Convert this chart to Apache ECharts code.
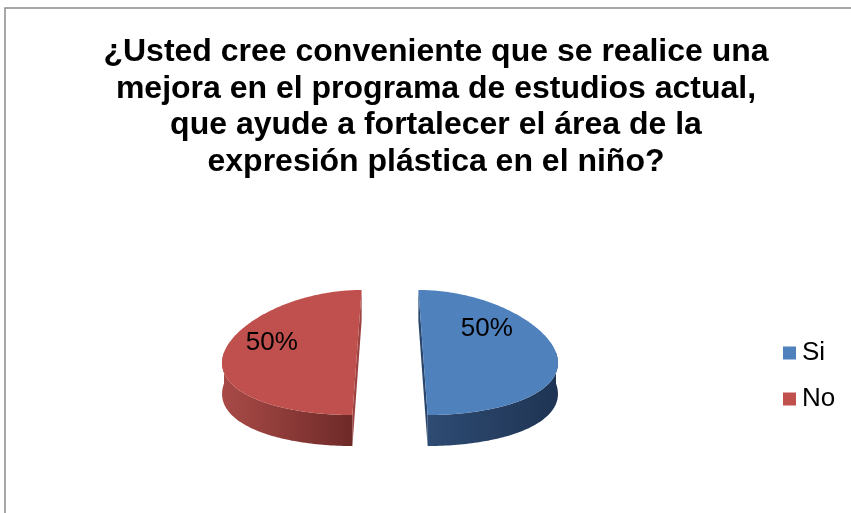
<!DOCTYPE html>
<html>
<head>
<meta charset="utf-8">
<script src="https://cdn.jsdelivr.net/npm/echarts@6/dist/echarts.min.js"></script>
<style>
  html, body { margin: 0; padding: 0; background: #fff; }
  #chart { width: 851px; height: 513px; }
</style>
</head>
<body>
<div id="chart"></div>
<script>
// datos de la encuesta
const categories = ['Si', 'No'];
const values = [50, 50];
const titleText = '¿Usted cree conveniente que se realice una\nmejora en el programa de estudios actual,\nque ayude a fortalecer el área de la\nexpresión plástica en el niño?';

// colores estilo Excel
const topColors = ['#4F81BD', '#C0504D'];
const wallColors = [['#2E4B73', '#1F3453'], ['#A94A47', '#6E2A28']];
const cutColors = ['#2A466C', '#9C4240'];

// geometria del pastel 3D
const CX = 390, CY = 352.5, RX = 133, RY = 62.5, DEPTH = 31, EXPLODE = 33, K = 0.14;
// posicion de etiquetas dentro de cada rebanada (unidades de elipse)
const labelPos = [[0.48, -0.38], [-0.64, -0.15]];

const total = values.reduce((a, b) => a + b, 0);

function sliceAngles(i) {
  let before = 0;
  for (let j = 0; j < i; j++) before += values[j];
  const a0 = -Math.PI / 2 + before / total * Math.PI * 2;
  const a1 = a0 + values[i] / total * Math.PI * 2;
  return [a0, a1];
}

function proj(th, h, ex, ey) {
  const u = Math.cos(th), v = Math.sin(th);
  const s = 1 + K * v;
  return [CX + (u * RX + ex) * s, CY + v * RY + ey + h];
}

function arc(a0, a1, h, ex, ey) {
  const pts = [];
  const n = Math.max(2, Math.ceil((a1 - a0) / 0.02));
  for (let k = 0; k <= n; k++) {
    pts.push(proj(a0 + (a1 - a0) * k / n, h, ex, ey));
  }
  return pts;
}

function makeRender(i) {
  return function (params, api) {
    const val = api.value(0);
    const [a0, a1] = sliceAngles(i);
    const mid = (a0 + a1) / 2;
    const ex = EXPLODE * Math.cos(mid);
    const ey = EXPLODE * Math.sin(mid) * RY / RX;
    const c = [CX + ex, CY + ey];
    const cb = [CX + ex, CY + ey + DEPTH];
    const children = [];

    // caras de corte
    [a0, a1].forEach(function (a) {
      const pt = proj(a, 0, ex, ey), pb = proj(a, DEPTH, ex, ey);
      children.push({
        type: 'polygon',
        shape: { points: [c, pt, pb, cb] },
        style: { fill: cutColors[i] }
      });
    });

    // pared frontal visible
    [[0, Math.PI], [2 * Math.PI, 3 * Math.PI]].forEach(function (r) {
      const s = Math.max(a0, r[0]), e = Math.min(a1, r[1]);
      if (e > s) {
        const top = arc(s, e, 0, ex, ey);
        const bot = arc(s, e, DEPTH, ex, ey).reverse();
        children.push({
          type: 'polygon',
          shape: { points: top.concat(bot) },
          style: {
            fill: new echarts.graphic.LinearGradient(0, 0, 1, 0, [
              { offset: 0, color: wallColors[i][0] },
              { offset: 1, color: wallColors[i][1] }
            ])
          }
        });
      }
    });

    // cara superior
    children.push({
      type: 'polygon',
      shape: { points: [c].concat(arc(a0, a1, 0, ex, ey)) },
      style: { fill: topColors[i] }
    });

    // etiqueta de porcentaje
    children.push({
      type: 'text',
      x: c[0] + labelPos[i][0] * RX,
      y: c[1] + labelPos[i][1] * RY,
      style: {
        text: Math.round(val / total * 100) + '%',
        fontSize: 26,
        fontFamily: 'Arial, "Liberation Sans", sans-serif',
        fill: '#000',
        align: 'center',
        verticalAlign: 'middle'
      }
    });

    return { type: 'group', children: children };
  };
}

const chart = echarts.init(document.getElementById('chart'));

const option = {
  backgroundColor: '#fff',
  animation: false,
  title: {
    text: titleText,
    left: 436,
    top: 34,
    padding: 0,
    textAlign: 'center',
    textStyle: {
      fontFamily: 'Arial, "Liberation Sans", sans-serif',
      fontSize: 32,
      fontWeight: 'bold',
      color: '#000',
      lineHeight: 36.5
    }
  },
  legend: {
    orient: 'vertical',
    left: 783,
    top: 340,
    padding: 0,
    icon: 'rect',
    itemWidth: 13,
    itemHeight: 13,
    itemGap: 20,
    itemStyle: { borderWidth: 0 },
    data: categories,
    textStyle: {
      fontFamily: 'Arial, "Liberation Sans", sans-serif',
      fontSize: 26,
      lineHeight: 26,
      color: '#000',
      padding: [0, 0, 0, 1]
    }
  },
  graphic: [{
    type: 'rect',
    shape: { x: 5, y: 8, width: 900, height: 600 },
    style: { fill: null, stroke: '#8c8c8c', lineWidth: 1.5 },
    silent: true
  }],
  series: categories.map(function (name, i) {
    return {
      name: name,
      type: 'custom',
      coordinateSystem: 'none',
      itemStyle: { color: topColors[i] },
      renderItem: makeRender(i),
      data: [[values[i]]]
    };
  })
};

chart.setOption(option);
</script>
</body>
</html>
